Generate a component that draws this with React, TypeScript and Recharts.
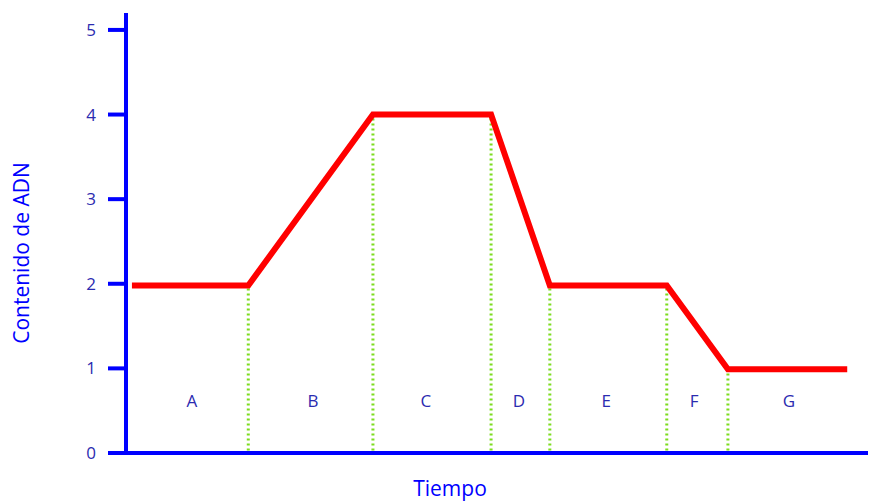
import React from 'react';
import {
	Line,
	LineChart,
	ReferenceLine,
	Scatter,
	XAxis,
	YAxis,
} from 'recharts';

const tiempo = [0.1, 2.06, 4.16, 6.15, 7.14, 9.11, 10.14, 12.15];
const adn = [1.98, 1.98, 4, 4, 1.98, 1.98, 0.99, 0.99];
const fases = ['A', 'B', 'C', 'D', 'E', 'F', 'G'];
const faseX = [1.11, 3.15, 5.05, 6.62, 8.09, 9.57, 11.17];
const faseY = 0.62;
const yTicks = [0, 1, 2, 3, 4, 5];

const lineData = tiempo.map((t, i) => ({ t, adn: adn[i] }));
const labelData = fases.map((name, i) => ({ t: faseX[i], adn: faseY, name }));

const BLUE = '#0000ff';
const TEXT = '#2b2bb0';
const FONT = '"Open Sans", sans-serif';

const FaseLabel = (props: any) => (
	<text
		x={props.cx}
		y={props.cy}
		textAnchor="middle"
		dominantBaseline="central"
		fill={TEXT}
		fontSize={17}
		fontFamily={FONT}
	>
		{props.payload.name}
	</text>
);

// axis titles sit off-centre in the original, so place them by hand
const YTitle = () => (
	<text
		transform="translate(21,253) rotate(-90)"
		textAnchor="middle"
		dominantBaseline="central"
		fill={BLUE}
		fontSize={21}
		fontFamily={FONT}
	>
		Contenido de ADN
	</text>
);

const XTitle = () => (
	<text
		x={450}
		y={488}
		textAnchor="middle"
		dominantBaseline="central"
		fill={BLUE}
		fontSize={21}
		fontFamily={FONT}
	>
		Tiempo
	</text>
);

export default function App() {
	return (
		<div style={{ position: 'absolute', left: 0, top: 0, background: '#fff' }}>
			<LineChart
				width={870}
				height={502}
				margin={{ top: 13, right: 2, bottom: 0, left: 0 }}
			>
				<XAxis
					type="number"
					dataKey="t"
					domain={[0, 12.5]}
					tick={false}
					tickLine={false}
					height={49}
					axisLine={{ stroke: BLUE, strokeWidth: 4 }}
					label={{ content: <XTitle /> }}
				/>
				<YAxis
					type="number"
					dataKey="adn"
					domain={[0, 5.2]}
					ticks={yTicks}
					width={126}
					tickSize={18}
					tickMargin={12}
					axisLine={{ stroke: BLUE, strokeWidth: 4 }}
					tickLine={{ stroke: BLUE, strokeWidth: 4 }}
					tick={{ fill: TEXT, fontSize: 17, fontFamily: FONT }}
					label={{ content: <YTitle /> }}
				/>
				<ReferenceLine
					segment={[
						{ x: -0.24, y: 0 },
						{ x: 0, y: 0 },
					]}
					ifOverflow="visible"
					stroke={BLUE}
					strokeWidth={4}
				/>
				{tiempo.slice(1, 7).map((t, i) => (
					<ReferenceLine
						key={t}
						segment={[
							{ x: t, y: 0.03 },
							{ x: t, y: adn[i + 1] },
						]}
						stroke="#7ddc1f"
						strokeWidth={3}
						strokeDasharray="2 3"
					/>
				))}
				<Line
					data={lineData}
					dataKey="adn"
					stroke="#ff0000"
					strokeWidth={6}
					dot={false}
					activeDot={false}
					isAnimationActive={false}
				/>
				<Scatter
					data={labelData}
					dataKey="adn"
					shape={<FaseLabel />}
					isAnimationActive={false}
				/>
			</LineChart>
		</div>
	);
}
